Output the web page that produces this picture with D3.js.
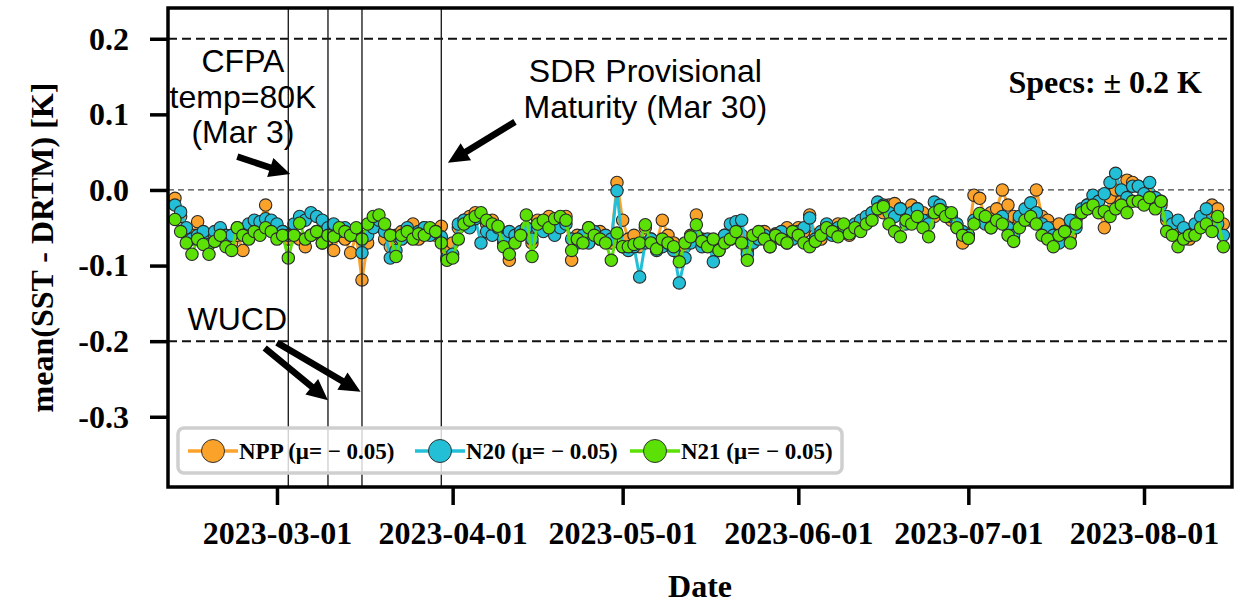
<!DOCTYPE html>
<html>
<head>
<meta charset="utf-8">
<script src="https://cdn.jsdelivr.net/npm/d3@7"></script>
<style>
body{margin:0;background:#fff}
</style>
</head>
<body>
<div id="chart"></div>
<script>
const firstDay = '2023-02-11'
const nppVals = [
  -0.011,-0.035,-0.055,-0.06,-0.042,-0.065,-0.07,-0.06,-0.055,-0.065,
  -0.07,-0.06,-0.08,-0.05,-0.055,-0.045,-0.02,-0.05,-0.06,-0.055,
  -0.065,-0.06,-0.065,-0.075,-0.06,-0.055,-0.07,-0.065,-0.08,-0.06,
  -0.065,-0.083,-0.06,-0.119,-0.07,-0.04,-0.045,-0.065,-0.075,-0.06,
  -0.055,-0.06,-0.045,-0.065,-0.05,-0.055,-0.06,-0.048,-0.08,-0.07,
  -0.05,-0.04,-0.035,-0.03,-0.035,-0.045,-0.04,-0.05,-0.07,-0.093,
  -0.065,-0.06,-0.05,-0.07,-0.04,-0.045,-0.035,-0.05,-0.04,-0.035,
  -0.093,-0.06,-0.065,-0.05,-0.06,-0.055,-0.065,-0.07,0.01,-0.04,
  -0.065,-0.06,-0.075,-0.05,-0.065,-0.07,-0.04,-0.06,-0.07,-0.085,
  -0.075,-0.06,-0.033,-0.065,-0.07,-0.075,-0.08,-0.06,-0.065,-0.05,
  -0.06,-0.08,-0.065,-0.06,-0.055,-0.07,-0.058,-0.065,-0.05,-0.06,
  -0.05,-0.055,-0.033,-0.06,-0.065,-0.05,-0.058,-0.045,-0.055,-0.06,
  -0.05,-0.045,-0.04,-0.03,-0.025,-0.03,-0.02,-0.018,-0.025,-0.03,
  -0.02,-0.025,-0.03,-0.04,-0.035,-0.025,-0.03,-0.04,-0.05,-0.07,
  -0.06,-0.007,-0.011,-0.04,-0.03,-0.025,0.0,-0.02,-0.035,-0.04,
  -0.03,-0.04,0.0,-0.035,-0.04,-0.05,-0.045,-0.055,-0.06,-0.04,
  -0.03,-0.02,-0.015,-0.025,-0.05,-0.01,0.0,-0.015,0.013,0.01,
  0.005,-0.01,-0.005,-0.015,-0.02,-0.04,-0.055,-0.05,-0.06,-0.065,
  -0.05,-0.04,-0.03,-0.02,-0.025,-0.045
]
const n20Vals = [
  -0.02,-0.029,-0.05,-0.065,-0.06,-0.055,-0.072,-0.055,-0.05,-0.06,
  -0.06,-0.05,-0.055,-0.045,-0.04,-0.042,-0.038,-0.04,-0.045,-0.055,
  -0.06,-0.045,-0.035,-0.04,-0.03,-0.035,-0.04,-0.05,-0.045,-0.055,
  -0.05,-0.06,-0.055,-0.083,-0.06,-0.05,-0.04,-0.055,-0.09,-0.08,
  -0.065,-0.05,-0.06,-0.055,-0.05,-0.06,-0.055,-0.062,-0.09,-0.085,
  -0.045,-0.04,-0.05,-0.038,-0.07,-0.055,-0.06,-0.05,-0.065,-0.055,
  -0.06,-0.055,-0.05,-0.065,-0.05,-0.055,-0.045,-0.06,-0.05,-0.045,
  -0.065,-0.07,-0.06,-0.07,-0.055,-0.065,-0.06,-0.065,-0.001,-0.075,
  -0.08,-0.075,-0.115,-0.07,-0.065,-0.08,-0.075,-0.07,-0.08,-0.123,
  -0.09,-0.07,-0.06,-0.075,-0.065,-0.095,-0.07,-0.06,-0.045,-0.042,
  -0.04,-0.085,-0.07,-0.065,-0.06,-0.075,-0.06,-0.055,-0.07,-0.065,
  -0.055,-0.05,-0.037,-0.065,-0.055,-0.045,-0.06,-0.05,-0.048,-0.05,
  -0.045,-0.04,-0.035,-0.03,-0.016,-0.02,-0.03,-0.035,-0.025,-0.045,
  -0.03,-0.025,-0.04,-0.045,-0.016,-0.02,-0.03,-0.035,-0.045,-0.055,
  -0.06,-0.04,-0.035,-0.045,-0.05,-0.04,-0.035,-0.05,-0.06,-0.035,
  -0.025,-0.017,-0.03,-0.045,-0.05,-0.06,-0.07,-0.055,-0.04,-0.05,
  -0.025,-0.02,-0.007,-0.015,-0.005,0.01,0.022,0.0,-0.01,0.005,
  0.005,-0.005,0.01,-0.01,-0.015,-0.035,-0.045,-0.04,-0.05,-0.06,
  -0.045,-0.035,-0.025,-0.05,-0.045,-0.06
]
const n21Vals = [
  -0.039,-0.055,-0.07,-0.085,-0.065,-0.072,-0.085,-0.068,-0.06,-0.075,
  -0.08,-0.05,-0.06,-0.065,-0.055,-0.06,-0.05,-0.055,-0.065,-0.06,
  -0.09,-0.06,-0.044,-0.065,-0.06,-0.055,-0.07,-0.06,-0.062,-0.05,
  -0.055,-0.06,-0.05,-0.065,-0.045,-0.035,-0.033,-0.045,-0.06,-0.088,
  -0.06,-0.055,-0.065,-0.058,-0.06,-0.05,-0.055,-0.07,-0.093,-0.09,
  -0.065,-0.045,-0.04,-0.035,-0.03,-0.04,-0.045,-0.048,-0.075,-0.085,
  -0.07,-0.06,-0.033,-0.088,-0.045,-0.04,-0.05,-0.038,-0.035,-0.04,
  -0.08,-0.065,-0.07,-0.05,-0.06,-0.065,-0.07,-0.093,-0.057,-0.075,
  -0.075,-0.072,-0.07,-0.046,-0.07,-0.078,-0.065,-0.07,-0.075,-0.095,
  -0.07,-0.062,-0.046,-0.068,-0.075,-0.065,-0.08,-0.07,-0.065,-0.055,
  -0.07,-0.093,-0.06,-0.055,-0.065,-0.075,-0.06,-0.065,-0.07,-0.055,
  -0.06,-0.07,-0.075,-0.068,-0.06,-0.05,-0.055,-0.062,-0.045,-0.058,
  -0.05,-0.055,-0.045,-0.04,-0.025,-0.022,-0.045,-0.055,-0.062,-0.04,
  -0.045,-0.035,-0.05,-0.062,-0.03,-0.026,-0.035,-0.03,-0.05,-0.06,
  -0.064,-0.045,-0.031,-0.035,-0.05,-0.04,-0.045,-0.06,-0.068,-0.05,
  -0.04,-0.035,-0.045,-0.06,-0.065,-0.075,-0.06,-0.055,-0.07,-0.045,
  -0.03,-0.025,-0.02,-0.03,-0.028,-0.035,-0.025,-0.02,-0.03,-0.015,
  -0.015,-0.02,-0.01,-0.025,-0.015,-0.055,-0.06,-0.075,-0.065,-0.06,
  -0.06,-0.05,-0.045,-0.055,-0.035,-0.075
]
const seriesNames = ['NPP','N20','N21']
const seriesMeans = ['0.05','0.05','0.05']
const seriesColors = ['#fba22b','#22bfd6','#5be106']
const yTicks = [0.2,0.1,0.0,-0.1,-0.2,-0.3]
const xTicks = ['2023-03-01','2023-04-01','2023-05-01','2023-06-01','2023-07-01','2023-08-01']
const eventDates = ['2023-03-03','2023-03-10','2023-03-16','2023-03-30']

const width = 1245, height = 603
const m = {l:168, t:8, r:13, b:116}
const serif = '"Liberation Serif","Times New Roman",serif'
const sans = '"Liberation Sans",Arial,sans-serif'

var svg = d3.select('#chart').append('svg')
    .attr('width',width)
    .attr('height',height)
    .style('display','block')

const day0 = new Date(firstDay+'T00:00Z')
const days = d3.utcDay.range(day0, d3.utcDay.offset(day0, nppVals.length))
const pd = s => new Date(s+'T00:00Z')

var x = d3.scaleUtc()
    .domain([new Date('2023-02-09T18:30Z'), new Date('2023-08-16T12:40Z')])
    .range([m.l, width-m.r])
var y = d3.scaleLinear()
    .domain([-0.3929, 0.2407])
    .range([height-m.b, m.t])

// reference lines
const hl = (v,w,dash,col) => svg.append('line')
    .attr('x1',m.l).attr('x2',width-m.r)
    .attr('y1',y(v)).attr('y2',y(v))
    .attr('stroke',col).attr('stroke-width',w).attr('stroke-dasharray',dash)
hl(0.2,2,'9,5','#111')
hl(-0.2,2,'9,5','#111')
hl(0,1.3,'6,4','#444')

// series
const allVals = [nppVals,n20Vals,n21Vals]
allVals.forEach((vals,i)=>{
  const pts = vals.map((v,j)=>[days[j],v])
  svg.append('path')
    .attr('d',d3.line().x(d=>x(d[0])).y(d=>y(d[1]))(pts))
    .attr('fill','none')
    .attr('stroke',seriesColors[i])
    .attr('stroke-width',3)
  svg.append('g').selectAll('circle').data(pts).join('circle')
    .attr('cx',d=>x(d[0]))
    .attr('cy',d=>y(d[1]))
    .attr('r',6.2)
    .attr('fill',seriesColors[i])
    .attr('stroke','#2a2a2a')
    .attr('stroke-width',1.1)
})

// event lines
svg.append('g').selectAll('line').data(eventDates).join('line')
  .attr('x1',d=>x(pd(d))).attr('x2',d=>x(pd(d)))
  .attr('y1',m.t).attr('y2',height-m.b)
  .attr('stroke','#222').attr('stroke-width',1.4)

// axes
var gy = svg.append('g')
    .attr('transform',`translate(${m.l},0)`)
    .call(d3.axisLeft(y).tickValues(yTicks).tickFormat(d=>d.toFixed(1)).tickSize(18).tickPadding(21))
var gx = svg.append('g')
    .attr('transform',`translate(0,${height-m.b})`)
    .call(d3.axisBottom(x).tickValues(xTicks.map(pd)).tickFormat(d3.utcFormat('%Y-%m-%d')).tickSize(18).tickPadding(16))
;[gx,gy].forEach(g=>{
  g.select('.domain').remove()
  g.selectAll('.tick line').attr('stroke','#000').attr('stroke-width',3.5)
  g.selectAll('.tick text').attr('fill','#000')
    .style('font-family',serif).style('font-weight','bold').style('font-size','32px')
})

svg.append('rect')
  .attr('x',m.l).attr('y',m.t)
  .attr('width',width-m.l-m.r).attr('height',height-m.t-m.b)
  .attr('fill','none').attr('stroke','#000').attr('stroke-width',3.5)

svg.append('text')
  .attr('transform',`translate(42,${(m.t+height-m.b)/2}) rotate(-90)`)
  .attr('text-anchor','middle').attr('dy','0.35em')
  .style('font-family',serif).style('font-weight','bold').style('font-size','32px')
  .text('mean(SST - DRTM) [K]')
svg.append('text')
  .attr('x',(m.l+width-m.r)/2).attr('y',597)
  .attr('text-anchor','middle')
  .style('font-family',serif).style('font-weight','bold').style('font-size','32px')
  .text('Date')

svg.append('text')
  .attr('x',1202).attr('y',93)
  .attr('text-anchor','end')
  .style('font-family',serif).style('font-weight','bold').style('font-size','32px')
  .text('Specs: ± 0.2 K')

// annotations
const note = (lines,cx,y0) => {
  var t = svg.append('text')
    .attr('text-anchor','middle')
    .style('font-family',sans).style('font-size','32px')
  lines.forEach((s,i)=>t.append('tspan').attr('x',cx).attr('y',y0+i*35.5).text(s))
}
note(['CFPA','temp=80K','(Mar 3)'],x(pd('2023-02-23')),72)
note(['SDR Provisional','Maturity (Mar 30)'],x(pd('2023-05-05')),82)
note(['WUCD'],x(pd('2023-02-22')),330)

var arrow = (x1,y1,x2,y2) => {
  const L = Math.hypot(x2-x1,y2-y1), ux = (x2-x1)/L, uy = (y2-y1)/L, nx = -uy, ny = ux
  const sw = 3.3, hw = 10, hlen = 21
  const bx = x2-ux*hlen, by = y2-uy*hlen
  return [[x1+nx*sw,y1+ny*sw],[bx+nx*sw,by+ny*sw],[bx+nx*hw,by+ny*hw],[x2,y2],
          [bx-nx*hw,by-ny*hw],[bx-nx*sw,by-ny*sw],[x1-nx*sw,y1-ny*sw]]
}
const arrows = [
  [pd('2023-02-22'),0.044,new Date('2023-03-03T08:00Z'),0.021],
  [pd('2023-04-12'),0.09,new Date('2023-03-31T04:00Z'),0.036],
  [new Date('2023-02-26T20:00Z'),-0.209,pd('2023-03-10'),-0.278],
  [pd('2023-03-01'),-0.202,new Date('2023-03-15T18:00Z'),-0.267]
]
svg.append('g').selectAll('polygon').data(arrows).join('polygon')
  .attr('points',d=>arrow(x(d[0]),y(d[1]),x(d[2]),y(d[3])).join(' '))
  .attr('fill','#000')

// legend
var lg = svg.append('g')
lg.append('rect')
  .attr('x',178).attr('y',428).attr('width',664).attr('height',45).attr('rx',6)
  .attr('fill','#fff').attr('fill-opacity',0.8)
  .attr('stroke','#cfcfcf').attr('stroke-width',3.5)
const lgX = [213,440,655]
seriesNames.forEach((n,i)=>{
  const cx = lgX[i], cy = 451
  lg.append('line').attr('x1',cx-25).attr('x2',cx+25).attr('y1',cy).attr('y2',cy)
    .attr('stroke',seriesColors[i]).attr('stroke-width',3.5)
  lg.append('circle').attr('cx',cx).attr('cy',cy).attr('r',11.5)
    .attr('fill',seriesColors[i]).attr('stroke','#333').attr('stroke-width',1)
  lg.append('text').attr('x',cx+26).attr('y',cy+7.5)
    .style('font-family',serif).style('font-weight','bold').style('font-size','23px')
    .text(`${n} (μ= − ${seriesMeans[i]})`)
})
</script>
</body>
</html>
